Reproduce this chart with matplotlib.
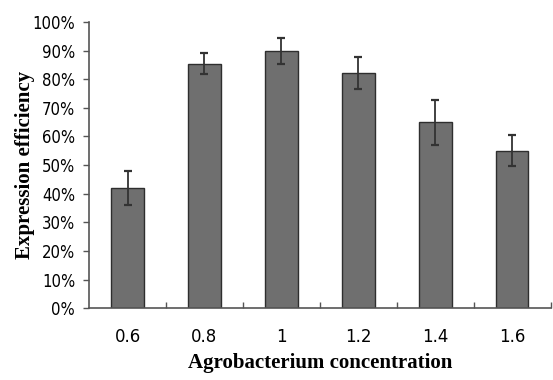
import matplotlib.pyplot as plt
import numpy as np
from matplotlib.ticker import FixedLocator

concentrations = ['0.6', '0.8', '1', '1.2', '1.4', '1.6']
efficiency = [0.42, 0.855, 0.90, 0.822, 0.65, 0.55]
errors = [0.058, 0.036, 0.045, 0.057, 0.078, 0.054]
y_ticks = np.arange(0, 1.01, 0.1)
y_labels = ['0%', '10%', '20%', '30%', '40%', '50%', '60%', '70%', '80%', '90%', '100%']


def main():
    fig = plt.figure(figsize=(5.53, 3.80), dpi=100)
    ax = fig.add_axes([0.161, 0.189, 0.835, 0.753])

    x = np.arange(len(concentrations))
    ax.bar(x, efficiency, width=0.42, color='#6f6f6f', edgecolor='#2e2e2e', linewidth=1.0, zorder=2)
    ax.errorbar(x, efficiency, yerr=errors, fmt='none', ecolor='#333333',
                elinewidth=1.3, capsize=3, capthick=1.6, zorder=3)

    ax.set_xlim(-0.5, len(concentrations) - 0.5)
    ax.set_ylim(0, 1.0)

    for side in ['top', 'right']:
        ax.spines[side].set_visible(False)
    for side in ['left', 'bottom']:
        ax.spines[side].set_color('#555555')
        ax.spines[side].set_linewidth(1.2)

    ax.set_yticks(y_ticks)
    ax.set_yticklabels(y_labels, family='DejaVu Sans', fontsize=12)
    for lbl in ax.get_yticklabels():
        lbl.set_fontstretch('condensed')
    ax.tick_params(axis='y', direction='out', length=4, width=1, color='#555555', pad=6)

    # category labels at centers, tick marks at boundaries
    ax.set_xticks(x)
    ax.set_xticklabels(concentrations, fontsize=12, family='DejaVu Sans')
    ax.tick_params(axis='x', which='major', length=0, pad=14)
    ax.xaxis.set_minor_locator(FixedLocator(np.arange(0.5, len(concentrations) - 0.4, 1.0)))
    ax.tick_params(axis='x', which='minor', direction='in', length=4, width=1, color='#555555')

    ax.set_ylabel('Expression efficiency', family='Liberation Serif', fontweight='bold', fontsize=15, labelpad=-2)
    ax.set_xlabel('Agrobacterium concentration', family='Liberation Serif', fontweight='bold', fontsize=15, labelpad=5)

    fig.savefig('out.png', dpi=100)


if __name__ == '__main__':
    main()
